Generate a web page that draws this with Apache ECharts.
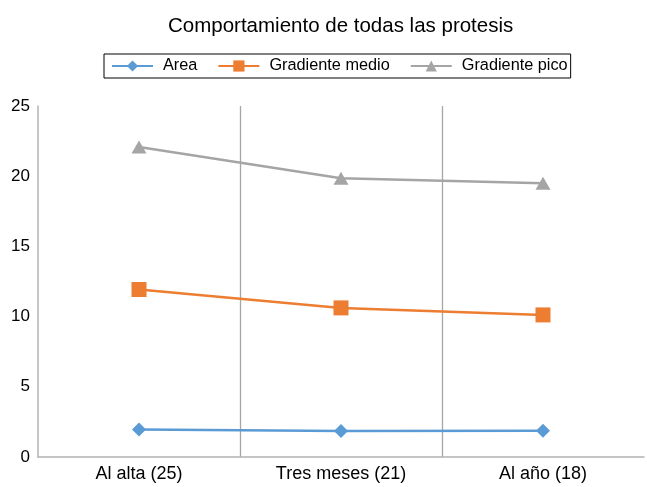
<!DOCTYPE html>
<html><head><meta charset="utf-8">
<script src="https://cdn.jsdelivr.net/npm/echarts@6/dist/echarts.min.js"></script>
<style>html,body{margin:0;padding:0;background:#fff}#c{width:647px;height:487px}</style>
</head><body><div id="c"></div>
<script>
const categories = ['Al alta (25)', 'Tres meses (21)', 'Al año (18)'];
const area = [1.95, 1.85, 1.87];
const gradMedio = [11.93, 10.62, 10.12];
const gradPico = [22.08, 19.85, 19.5];
const yTicks = [0, 5, 10, 15, 20, 25];

const chart = echarts.init(document.getElementById('c'));
const font = 'Liberation Sans, Arial, sans-serif';
chart.setOption({
  animation: false,
  title: { text: 'Comportamiento de todas las protesis', left: 163, top: 11,
    textStyle: { fontFamily: font, fontSize: 20.5, fontWeight: 'normal', color: '#000' } },
  legend: { top: 54, left: 104, borderColor: '#000', borderWidth: 1, borderRadius: 0,
    padding: [4, 3, 4, 7], itemWidth: 41, itemHeight: 14, itemGap: 20,
    textStyle: { fontFamily: font, fontSize: 16.3, color: '#000', padding: [0, 0, 0, 5] },
    data: ['Area', 'Gradiente medio', 'Gradiente pico'] },
  grid: { left: 38, right: 3, top: 106, bottom: 30, containLabel: false },
  xAxis: { type: 'category', data: categories, boundaryGap: true,
    axisLine: { lineStyle: { color: '#b3b3b3', width: 1.5 } },
    axisTick: { show: false },
    splitLine: { show: true, showMinLine: false, showMaxLine: false, lineStyle: { color: '#a6a6a6', width: 1.3 } },
    axisLabel: { fontFamily: font, fontSize: 18, color: '#000', margin: 8 } },
  yAxis: { type: 'value', min: yTicks[0], max: yTicks[yTicks.length - 1], interval: 5,
    axisLine: { show: true, lineStyle: { color: '#b3b3b3', width: 1.5 } },
    axisTick: { show: false }, splitLine: { show: false },
    axisLabel: { fontFamily: font, fontSize: 17, color: '#000', margin: 8 } },
  series: [
    { name: 'Area', type: 'line', data: area, symbol: 'diamond', symbolSize: 14,
      color: '#5B9BD5', lineStyle: { width: 2.5 } },
    { name: 'Gradiente medio', type: 'line', data: gradMedio, symbol: 'rect', symbolSize: 15,
      color: '#ED7D31', lineStyle: { width: 2.5 } },
    { name: 'Gradiente pico', type: 'line', data: gradPico, symbol: 'triangle', symbolSize: [15, 13],
      color: '#A5A5A5', lineStyle: { width: 2.5 } }
  ]
});
</script></body></html>
